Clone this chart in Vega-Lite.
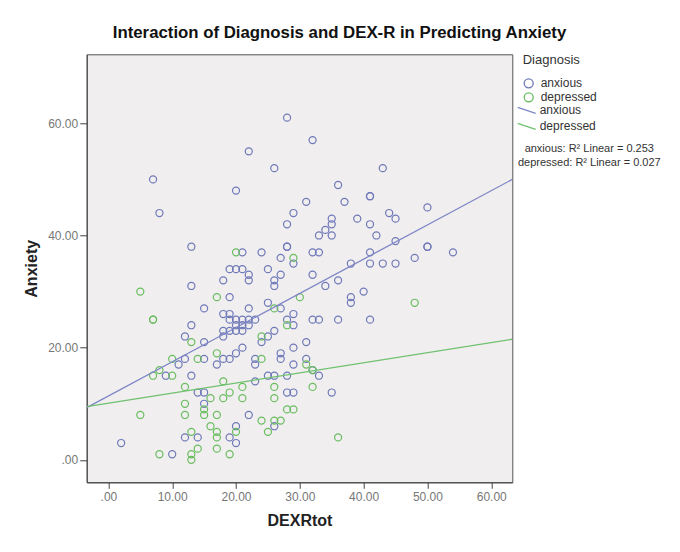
{
 "$schema": "https://vega.github.io/schema/vega-lite/v6.json",
 "width": 425.6,
 "height": 428,
 "autosize": {"type": "none"},
 "padding": {"left": 86.7, "top": 54.3, "right": 167.7, "bottom": 69.7},
 "background": "white",
 "title": {"text": "Interaction of Diagnosis and DEX-R in Predicting Anxiety", "anchor": "middle", "dx": 40, "fontSize": 16.8, "fontWeight": "bold", "font": "Liberation Sans", "color": "#111", "offset": 13},
 "datasets": {
  "pts": [
   {"Diagnosis":"anxious","DEXRtot":28,"Anxiety":61},{"Diagnosis":"anxious","DEXRtot":22,"Anxiety":55},{"Diagnosis":"anxious","DEXRtot":26,"Anxiety":52},{"Diagnosis":"anxious","DEXRtot":7,"Anxiety":50},{"Diagnosis":"anxious","DEXRtot":20,"Anxiety":48},{"Diagnosis":"anxious","DEXRtot":31,"Anxiety":46},{"Diagnosis":"anxious","DEXRtot":8,"Anxiety":44},{"Diagnosis":"anxious","DEXRtot":29,"Anxiety":44},{"Diagnosis":"anxious","DEXRtot":28,"Anxiety":42},{"Diagnosis":"anxious","DEXRtot":13,"Anxiety":38},{"Diagnosis":"anxious","DEXRtot":28,"Anxiety":38},{"Diagnosis":"anxious","DEXRtot":28,"Anxiety":38},{"Diagnosis":"anxious","DEXRtot":21,"Anxiety":37},{"Diagnosis":"anxious","DEXRtot":24,"Anxiety":37},{"Diagnosis":"anxious","DEXRtot":27,"Anxiety":36},{"Diagnosis":"anxious","DEXRtot":29,"Anxiety":35},{"Diagnosis":"anxious","DEXRtot":19,"Anxiety":34},{"Diagnosis":"anxious","DEXRtot":20,"Anxiety":34},{"Diagnosis":"anxious","DEXRtot":21,"Anxiety":34},{"Diagnosis":"anxious","DEXRtot":25,"Anxiety":34},{"Diagnosis":"anxious","DEXRtot":22,"Anxiety":33},{"Diagnosis":"anxious","DEXRtot":27,"Anxiety":33},{"Diagnosis":"anxious","DEXRtot":18,"Anxiety":32},{"Diagnosis":"anxious","DEXRtot":22,"Anxiety":32},{"Diagnosis":"anxious","DEXRtot":26,"Anxiety":32},{"Diagnosis":"anxious","DEXRtot":26,"Anxiety":31},{"Diagnosis":"anxious","DEXRtot":13,"Anxiety":31},{"Diagnosis":"anxious","DEXRtot":19,"Anxiety":29},{"Diagnosis":"anxious","DEXRtot":15,"Anxiety":27},{"Diagnosis":"anxious","DEXRtot":22,"Anxiety":27},{"Diagnosis":"anxious","DEXRtot":25,"Anxiety":28},{"Diagnosis":"anxious","DEXRtot":27,"Anxiety":27},{"Diagnosis":"anxious","DEXRtot":18,"Anxiety":26},{"Diagnosis":"anxious","DEXRtot":19,"Anxiety":26},{"Diagnosis":"anxious","DEXRtot":29,"Anxiety":26},{"Diagnosis":"anxious","DEXRtot":19,"Anxiety":25},{"Diagnosis":"anxious","DEXRtot":20,"Anxiety":25},{"Diagnosis":"anxious","DEXRtot":21,"Anxiety":25},{"Diagnosis":"anxious","DEXRtot":22,"Anxiety":25},{"Diagnosis":"anxious","DEXRtot":23,"Anxiety":25},{"Diagnosis":"anxious","DEXRtot":28,"Anxiety":25},{"Diagnosis":"anxious","DEXRtot":13,"Anxiety":24},{"Diagnosis":"anxious","DEXRtot":20,"Anxiety":24},{"Diagnosis":"anxious","DEXRtot":21,"Anxiety":24},{"Diagnosis":"anxious","DEXRtot":22,"Anxiety":24},{"Diagnosis":"anxious","DEXRtot":29,"Anxiety":24},{"Diagnosis":"anxious","DEXRtot":18,"Anxiety":23},{"Diagnosis":"anxious","DEXRtot":19,"Anxiety":23},{"Diagnosis":"anxious","DEXRtot":20,"Anxiety":23},{"Diagnosis":"anxious","DEXRtot":21,"Anxiety":23},{"Diagnosis":"anxious","DEXRtot":26,"Anxiety":23},{"Diagnosis":"anxious","DEXRtot":12,"Anxiety":22},{"Diagnosis":"anxious","DEXRtot":18,"Anxiety":22},{"Diagnosis":"anxious","DEXRtot":25,"Anxiety":22},{"Diagnosis":"anxious","DEXRtot":15,"Anxiety":21},{"Diagnosis":"anxious","DEXRtot":24,"Anxiety":21},{"Diagnosis":"anxious","DEXRtot":31,"Anxiety":21},{"Diagnosis":"anxious","DEXRtot":29,"Anxiety":20},{"Diagnosis":"anxious","DEXRtot":21,"Anxiety":20},{"Diagnosis":"anxious","DEXRtot":20,"Anxiety":19},{"Diagnosis":"anxious","DEXRtot":27,"Anxiety":19},{"Diagnosis":"anxious","DEXRtot":27,"Anxiety":18},{"Diagnosis":"anxious","DEXRtot":12,"Anxiety":18},{"Diagnosis":"anxious","DEXRtot":15,"Anxiety":18},{"Diagnosis":"anxious","DEXRtot":18,"Anxiety":18},{"Diagnosis":"anxious","DEXRtot":19,"Anxiety":18},{"Diagnosis":"anxious","DEXRtot":23,"Anxiety":18},{"Diagnosis":"anxious","DEXRtot":31,"Anxiety":18},{"Diagnosis":"anxious","DEXRtot":11,"Anxiety":17},{"Diagnosis":"anxious","DEXRtot":17,"Anxiety":17},{"Diagnosis":"anxious","DEXRtot":23,"Anxiety":17},{"Diagnosis":"anxious","DEXRtot":29,"Anxiety":17},{"Diagnosis":"anxious","DEXRtot":9,"Anxiety":15},{"Diagnosis":"anxious","DEXRtot":13,"Anxiety":15},{"Diagnosis":"anxious","DEXRtot":25,"Anxiety":15},{"Diagnosis":"anxious","DEXRtot":26,"Anxiety":15},{"Diagnosis":"anxious","DEXRtot":28,"Anxiety":15},{"Diagnosis":"anxious","DEXRtot":33,"Anxiety":15},{"Diagnosis":"anxious","DEXRtot":32,"Anxiety":16},{"Diagnosis":"anxious","DEXRtot":23,"Anxiety":14},{"Diagnosis":"anxious","DEXRtot":14,"Anxiety":12},{"Diagnosis":"anxious","DEXRtot":15,"Anxiety":12},{"Diagnosis":"anxious","DEXRtot":28,"Anxiety":12},{"Diagnosis":"anxious","DEXRtot":29,"Anxiety":12},{"Diagnosis":"anxious","DEXRtot":35,"Anxiety":12},{"Diagnosis":"anxious","DEXRtot":15,"Anxiety":10},{"Diagnosis":"anxious","DEXRtot":22,"Anxiety":8},{"Diagnosis":"anxious","DEXRtot":26,"Anxiety":6},{"Diagnosis":"anxious","DEXRtot":12,"Anxiety":4},{"Diagnosis":"anxious","DEXRtot":14,"Anxiety":4},{"Diagnosis":"anxious","DEXRtot":19,"Anxiety":4},{"Diagnosis":"anxious","DEXRtot":20,"Anxiety":3},{"Diagnosis":"anxious","DEXRtot":20,"Anxiety":6},{"Diagnosis":"anxious","DEXRtot":2,"Anxiety":3},{"Diagnosis":"anxious","DEXRtot":10,"Anxiety":1},
   {"Diagnosis":"anxious","DEXRtot":32,"Anxiety":57},{"Diagnosis":"anxious","DEXRtot":43,"Anxiety":52},{"Diagnosis":"anxious","DEXRtot":36,"Anxiety":49},{"Diagnosis":"anxious","DEXRtot":37,"Anxiety":46},{"Diagnosis":"anxious","DEXRtot":41,"Anxiety":47},{"Diagnosis":"anxious","DEXRtot":41,"Anxiety":47},{"Diagnosis":"anxious","DEXRtot":50,"Anxiety":45},{"Diagnosis":"anxious","DEXRtot":44,"Anxiety":44},{"Diagnosis":"anxious","DEXRtot":45,"Anxiety":43},{"Diagnosis":"anxious","DEXRtot":39,"Anxiety":43},{"Diagnosis":"anxious","DEXRtot":35,"Anxiety":43},{"Diagnosis":"anxious","DEXRtot":35,"Anxiety":42},{"Diagnosis":"anxious","DEXRtot":41,"Anxiety":42},{"Diagnosis":"anxious","DEXRtot":34,"Anxiety":41},{"Diagnosis":"anxious","DEXRtot":33,"Anxiety":40},{"Diagnosis":"anxious","DEXRtot":35,"Anxiety":40},{"Diagnosis":"anxious","DEXRtot":42,"Anxiety":40},{"Diagnosis":"anxious","DEXRtot":32,"Anxiety":37},{"Diagnosis":"anxious","DEXRtot":33,"Anxiety":37},{"Diagnosis":"anxious","DEXRtot":41,"Anxiety":37},{"Diagnosis":"anxious","DEXRtot":45,"Anxiety":39},{"Diagnosis":"anxious","DEXRtot":50,"Anxiety":38},{"Diagnosis":"anxious","DEXRtot":50,"Anxiety":38},{"Diagnosis":"anxious","DEXRtot":54,"Anxiety":37},{"Diagnosis":"anxious","DEXRtot":48,"Anxiety":36},{"Diagnosis":"anxious","DEXRtot":38,"Anxiety":35},{"Diagnosis":"anxious","DEXRtot":41,"Anxiety":35},{"Diagnosis":"anxious","DEXRtot":43,"Anxiety":35},{"Diagnosis":"anxious","DEXRtot":45,"Anxiety":35},{"Diagnosis":"anxious","DEXRtot":32,"Anxiety":33},{"Diagnosis":"anxious","DEXRtot":36,"Anxiety":32},{"Diagnosis":"anxious","DEXRtot":34,"Anxiety":31},{"Diagnosis":"anxious","DEXRtot":40,"Anxiety":30},{"Diagnosis":"anxious","DEXRtot":38,"Anxiety":29},{"Diagnosis":"anxious","DEXRtot":38,"Anxiety":28},{"Diagnosis":"anxious","DEXRtot":32,"Anxiety":25},{"Diagnosis":"anxious","DEXRtot":33,"Anxiety":25},{"Diagnosis":"anxious","DEXRtot":36,"Anxiety":25},{"Diagnosis":"anxious","DEXRtot":41,"Anxiety":25},
   {"Diagnosis":"depressed","DEXRtot":20,"Anxiety":37},{"Diagnosis":"depressed","DEXRtot":29,"Anxiety":36},{"Diagnosis":"depressed","DEXRtot":5,"Anxiety":30},{"Diagnosis":"depressed","DEXRtot":17,"Anxiety":29},{"Diagnosis":"depressed","DEXRtot":30,"Anxiety":29},{"Diagnosis":"depressed","DEXRtot":26,"Anxiety":27},{"Diagnosis":"depressed","DEXRtot":7,"Anxiety":25},{"Diagnosis":"depressed","DEXRtot":7,"Anxiety":25},{"Diagnosis":"depressed","DEXRtot":28,"Anxiety":24},{"Diagnosis":"depressed","DEXRtot":24,"Anxiety":22},{"Diagnosis":"depressed","DEXRtot":13,"Anxiety":21},{"Diagnosis":"depressed","DEXRtot":10,"Anxiety":18},{"Diagnosis":"depressed","DEXRtot":14,"Anxiety":18},{"Diagnosis":"depressed","DEXRtot":17,"Anxiety":19},{"Diagnosis":"depressed","DEXRtot":24,"Anxiety":18},{"Diagnosis":"depressed","DEXRtot":31,"Anxiety":17},{"Diagnosis":"depressed","DEXRtot":32,"Anxiety":16},{"Diagnosis":"depressed","DEXRtot":8,"Anxiety":16},{"Diagnosis":"depressed","DEXRtot":7,"Anxiety":15},{"Diagnosis":"depressed","DEXRtot":10,"Anxiety":15},{"Diagnosis":"depressed","DEXRtot":12,"Anxiety":13},{"Diagnosis":"depressed","DEXRtot":18,"Anxiety":14},{"Diagnosis":"depressed","DEXRtot":16,"Anxiety":11},{"Diagnosis":"depressed","DEXRtot":18,"Anxiety":11},{"Diagnosis":"depressed","DEXRtot":19,"Anxiety":12},{"Diagnosis":"depressed","DEXRtot":21,"Anxiety":13},{"Diagnosis":"depressed","DEXRtot":21,"Anxiety":11},{"Diagnosis":"depressed","DEXRtot":26,"Anxiety":13},{"Diagnosis":"depressed","DEXRtot":26,"Anxiety":11},{"Diagnosis":"depressed","DEXRtot":32,"Anxiety":13},{"Diagnosis":"depressed","DEXRtot":12,"Anxiety":10},{"Diagnosis":"depressed","DEXRtot":12,"Anxiety":8},{"Diagnosis":"depressed","DEXRtot":15,"Anxiety":9},{"Diagnosis":"depressed","DEXRtot":15,"Anxiety":8},{"Diagnosis":"depressed","DEXRtot":17,"Anxiety":8},{"Diagnosis":"depressed","DEXRtot":5,"Anxiety":8},{"Diagnosis":"depressed","DEXRtot":24,"Anxiety":7},{"Diagnosis":"depressed","DEXRtot":26,"Anxiety":7},{"Diagnosis":"depressed","DEXRtot":27,"Anxiety":7},{"Diagnosis":"depressed","DEXRtot":25,"Anxiety":5},{"Diagnosis":"depressed","DEXRtot":28,"Anxiety":9},{"Diagnosis":"depressed","DEXRtot":29,"Anxiety":9},{"Diagnosis":"depressed","DEXRtot":13,"Anxiety":5},{"Diagnosis":"depressed","DEXRtot":16,"Anxiety":6},{"Diagnosis":"depressed","DEXRtot":17,"Anxiety":5},{"Diagnosis":"depressed","DEXRtot":17,"Anxiety":4},{"Diagnosis":"depressed","DEXRtot":20,"Anxiety":5},{"Diagnosis":"depressed","DEXRtot":14,"Anxiety":2},{"Diagnosis":"depressed","DEXRtot":17,"Anxiety":2},{"Diagnosis":"depressed","DEXRtot":8,"Anxiety":1},{"Diagnosis":"depressed","DEXRtot":13,"Anxiety":1},{"Diagnosis":"depressed","DEXRtot":13,"Anxiety":0},{"Diagnosis":"depressed","DEXRtot":19,"Anxiety":1},{"Diagnosis":"depressed","DEXRtot":36,"Anxiety":4},{"Diagnosis":"depressed","DEXRtot":48,"Anxiety":28}
  ],
  "fits": [
   {"Diagnosis":"anxious","DEXRtot":-3.4,"Anxiety":9.3,"fit":"anxious: R² Linear = 0.253"},
   {"Diagnosis":"anxious","DEXRtot":63.3,"Anxiety":50.0,"fit":"anxious: R² Linear = 0.253"},
   {"Diagnosis":"depressed","DEXRtot":-3.4,"Anxiety":9.5,"fit":"depressed: R² Linear = 0.027"},
   {"Diagnosis":"depressed","DEXRtot":63.3,"Anxiety":21.5,"fit":"depressed: R² Linear = 0.027"}
  ]
 },
 "layer": [
  {
   "data": {"name": "pts"},
   "mark": {"type": "point", "shape": "circle", "filled": false, "size": 50, "strokeWidth": 1.2, "opacity": 1},
   "encoding": {
    "x": {"field": "DEXRtot", "type": "quantitative", "scale": {"domain": [-3.4, 63.3], "nice": false, "zero": false},
     "axis": {"values": [0,10,20,30,40,50,60], "labelExpr": "datum.value == 0 ? '.00' : format(datum.value, '.2f')", "grid": false, "title": "DEXRtot", "titleFontSize": 16, "titleFontWeight": "bold", "titleColor": "#222", "titlePadding": 10, "labelFontSize": 12, "labelColor": "#777", "tickSize": 6, "tickColor": "#444", "domainColor": "#444", "labelPadding": 3}},
    "y": {"field": "Anxiety", "type": "quantitative", "scale": {"domain": [-4, 72.3], "nice": false, "zero": false},
     "axis": {"values": [0,20,40,60], "labelExpr": "datum.value == 0 ? '.00' : format(datum.value, '.2f')", "grid": false, "title": "Anxiety", "titleFontSize": 16, "titleFontWeight": "bold", "titleColor": "#222", "titlePadding": 8, "labelFontSize": 12, "labelColor": "#777", "tickSize": 7, "tickColor": "#444", "domainColor": "#444", "labelPadding": 2}},
    "color": {"field": "Diagnosis", "type": "nominal", "scale": {"domain": ["anxious", "depressed"], "range": ["#6f79b8", "#69bd5f"]},
     "legend": {"title": "Diagnosis", "orient": "none", "legendX": 436, "legendY": 0, "symbolType": "circle", "symbolSize": 81, "symbolStrokeWidth": 1.3, "titleFontSize": 13, "titleFontWeight": "normal", "titleColor": "#333", "titleBaseline": "top", "labelFontSize": 12, "labelColor": "#333", "titlePadding": 10, "rowPadding": -2, "labelOffset": 6, "padding": 0}}
   }
  },
  {
   "data": {"name": "fits"},
   "mark": {"type": "line", "strokeWidth": 1.3, "clip": true},
   "encoding": {
    "x": {"field": "DEXRtot", "type": "quantitative"},
    "y": {"field": "Anxiety", "type": "quantitative"},
    "color": {"field": "Diagnosis", "type": "nominal", "scale": {"domain": ["anxious", "depressed"], "range": ["#7e86c6", "#6fc16f"]},
     "legend": {"title": null, "orient": "none", "legendX": 430, "legendY": 46, "symbolType": "M-1,-0.33L1,0.33", "symbolSize": 324, "symbolStrokeWidth": 1.3, "labelFontSize": 12, "labelColor": "#333", "labelOffset": 3, "rowPadding": -3, "padding": 0}},
    "opacity": {"field": "fit", "type": "ordinal", "scale": {"range": [1, 1]},
     "legend": {"title": null, "orient": "none", "legendX": 491.6, "legendY": 89, "symbolSize": 0, "symbolOpacity": 0, "labelAlign": "center", "labelOffset": 0, "labelFontSize": 11, "labelColor": "#333", "labelLimit": 300, "rowPadding": 2.3, "padding": 0}}
   }
  }
 ],
 "resolve": {"scale": {"color": "independent"}, "legend": {"color": "independent"}},
 "config": {
  "font": "Liberation Sans",
  "view": {"fill": "#f0eeef", "stroke": "#555", "strokeWidth": 1}
 }
}
